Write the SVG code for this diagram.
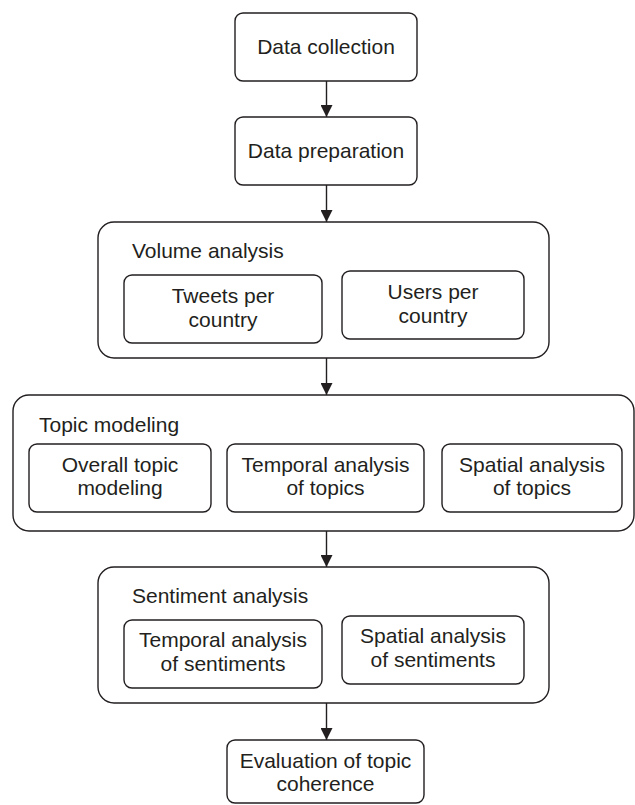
<svg xmlns="http://www.w3.org/2000/svg" width="635" height="805" viewBox="0 0 635 805">
<defs>
<style>
.box{fill:#fff;stroke:#231f20;stroke-width:1.4}
.t{font-family:"Liberation Sans",Arial,sans-serif;font-size:21px;fill:#231f20}
.c{text-anchor:middle}
.edge{stroke:#231f20;stroke-width:1.4;fill:none}
</style>
<marker id="ah" viewBox="0 0 12 12" refX="12" refY="6" markerWidth="12" markerHeight="12" markerUnits="userSpaceOnUse" orient="auto">
<path d="M0,0 L12,6 L0,12 Z" fill="#231f20"/>
</marker>
</defs>
<rect width="635" height="805" fill="#fff"/>
<g id="data-collection">
<rect class="box" x="235" y="13" width="182" height="68" rx="8"/>
<text class="t c" x="326" y="54">Data collection</text>
</g>
<g id="data-preparation">
<rect class="box" x="235" y="117" width="182" height="68" rx="8"/>
<text class="t c" x="326" y="158">Data preparation</text>
</g>
<g id="volume-analysis">
<rect class="box" x="98" y="222" width="451" height="136" rx="16"/>
<text class="t" x="132" y="258">Volume analysis</text>
<g id="tweets-per-country">
<rect class="box" x="124" y="275" width="198" height="68" rx="8"/>
<text class="t c" x="223" y="303">Tweets per</text>
<text class="t c" x="223" y="327">country</text>
</g>
<g id="users-per-country">
<rect class="box" x="342" y="271" width="182" height="68" rx="8"/>
<text class="t c" x="433" y="299">Users per</text>
<text class="t c" x="433" y="323">country</text>
</g>
</g>
<g id="topic-modeling">
<rect class="box" x="13" y="395" width="621" height="136" rx="16"/>
<text class="t" x="39" y="432">Topic modeling</text>
<g id="overall-topic-modeling">
<rect class="box" x="29" y="444" width="182" height="68" rx="8"/>
<text class="t c" x="120" y="472">Overall topic</text>
<text class="t c" x="120" y="495">modeling</text>
</g>
<g id="temporal-topics">
<rect class="box" x="227" y="444" width="197" height="68" rx="8"/>
<text class="t c" x="325.5" y="472">Temporal analysis</text>
<text class="t c" x="325.5" y="495">of topics</text>
</g>
<g id="spatial-topics">
<rect class="box" x="442" y="444" width="180" height="68" rx="8"/>
<text class="t c" x="532" y="472">Spatial analysis</text>
<text class="t c" x="532" y="495">of topics</text>
</g>
</g>
<g id="sentiment-analysis">
<rect class="box" x="98" y="567" width="451" height="136" rx="16"/>
<text class="t" x="132" y="603">Sentiment analysis</text>
<g id="temporal-sentiments">
<rect class="box" x="124" y="620" width="198" height="68" rx="8"/>
<text class="t c" x="223" y="647">Temporal analysis</text>
<text class="t c" x="223" y="671">of sentiments</text>
</g>
<g id="spatial-sentiments">
<rect class="box" x="342" y="616" width="182" height="68" rx="8"/>
<text class="t c" x="433" y="643">Spatial analysis</text>
<text class="t c" x="433" y="667">of sentiments</text>
</g>
</g>
<g id="evaluation">
<rect class="box" x="227" y="740" width="197" height="63" rx="8"/>
<text class="t c" x="325.5" y="768">Evaluation of topic</text>
<text class="t c" x="325.5" y="791">coherence</text>
</g>
<g id="connectors">
<line class="edge" x1="326.5" y1="81" x2="326.5" y2="117" marker-end="url(#ah)"/>
<line class="edge" x1="326.5" y1="185" x2="326.5" y2="222" marker-end="url(#ah)"/>
<line class="edge" x1="326.5" y1="358" x2="326.5" y2="395" marker-end="url(#ah)"/>
<line class="edge" x1="326.5" y1="531" x2="326.5" y2="567" marker-end="url(#ah)"/>
<line class="edge" x1="326.5" y1="703" x2="326.5" y2="740" marker-end="url(#ah)"/>
</g>
</svg>
